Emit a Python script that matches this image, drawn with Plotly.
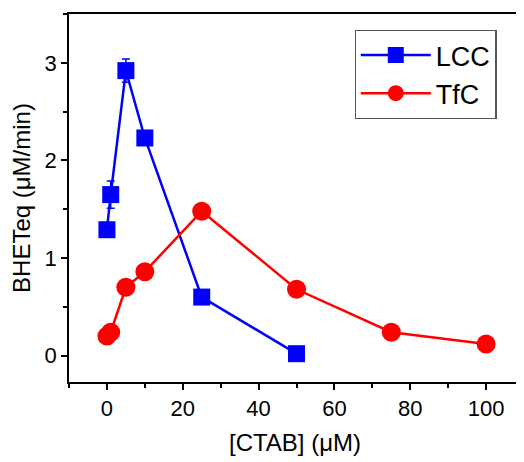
import plotly.graph_objects as go

lcc_x = [0, 1, 5, 10, 25, 50]
lcc_y = [1.29, 1.65, 2.92, 2.23, 0.60, 0.02]
lcc_err = [0.0, 0.14, 0.12, 0.0, 0.0, 0.0]

tfc_x = [0, 1, 5, 10, 25, 50, 75, 100]
tfc_y = [0.20, 0.24, 0.70, 0.86, 1.48, 0.68, 0.24, 0.12]
tfc_err = [0.0, 0.0, 0.0, 0.0, 0.06, 0.0, 0.0, 0.0]

x_ticks = [0, 20, 40, 60, 80, 100]
y_ticks = [0, 1, 2, 3]

fig = go.Figure()
fig.add_trace(go.Scatter(
    x=lcc_x, y=lcc_y, name="LCC", mode="lines+markers",
    line=dict(color="#0000ff", width=2.5),
    marker=dict(symbol="square", size=17, color="#0000ff"),
    error_y=dict(type="data", array=lcc_err, color="#0000ff", thickness=1.5, width=4),
))
fig.add_trace(go.Scatter(
    x=tfc_x, y=tfc_y, name="TfC", mode="lines+markers",
    line=dict(color="#ff0000", width=2.5),
    marker=dict(symbol="circle", size=19, color="#ff0000"),
    error_y=dict(type="data", array=tfc_err, color="#ff0000", thickness=1.5, width=4),
))

axis_common = dict(
    showgrid=False, zeroline=False, showline=True, linecolor="black", linewidth=1.5,
    mirror=True, ticks="outside", ticklen=6, tickwidth=1.5, tickcolor="black",
    tickfont=dict(size=22, color="black"), automargin=False,
)
fig.update_xaxes(
    range=[-10, 109.2], tickvals=x_ticks,
    minor=dict(ticks="outside", ticklen=4, tickwidth=1.5, tickcolor="black", dtick=10, tick0=0),
    title=dict(text="[CTAB] (μM)", font=dict(size=24, color="black"), standoff=14),
    **axis_common,
)
fig.update_yaxes(
    range=[-0.27, 3.5], tickvals=y_ticks,
    minor=dict(ticks="outside", ticklen=4, tickwidth=1.5, tickcolor="black", dtick=0.5, tick0=0),
    title=dict(text="BHETeq (μM/min)", font=dict(size=24, color="black"), standoff=8),
    **axis_common,
)
# page body has an 8px default margin, so the figure is shrunk/offset to compensate
fig.update_layout(
    width=516, height=454,
    margin=dict(l=61, r=3, t=6, b=80),
    plot_bgcolor="white", paper_bgcolor="white",
    font=dict(family="Liberation Sans, Arial, sans-serif", color="black"),
    legend=dict(
        x=0.946, y=0.957, xanchor="right", yanchor="top",
        bordercolor="#555555", borderwidth=1.2, bgcolor="white",
        font=dict(size=27, color="black"), itemwidth=70, tracegroupgap=0,
    ),
)
fig.write_html("out.html")
